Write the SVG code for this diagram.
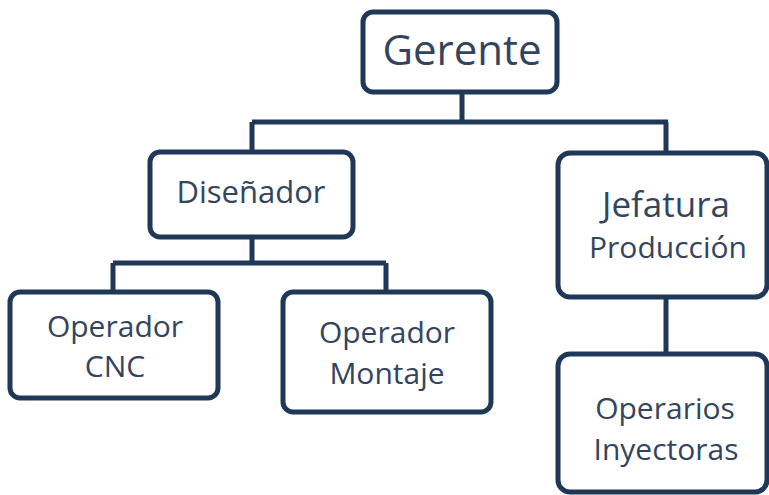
<svg xmlns="http://www.w3.org/2000/svg" width="769" height="495" viewBox="0 0 769 495">
<style>
.box{fill:#ffffff;stroke:#1f3858;stroke-width:5}
.line{fill:none;stroke:#1f3858;stroke-width:5}
text{font-family:"Open Sans","Noto Sans",sans-serif;fill:#33455e;text-anchor:middle;font-size:30px}
text.big{font-size:42px}
text.mid{font-size:35px}
text.dis{font-size:31px}
</style>
<rect width="769" height="495" fill="#ffffff"/>
<g id="connectors">
<path class="line" d="M462 92 V122 M252 122 H668 M252 122 V151 M666 122 V152"/>
<path class="line" d="M252 237 V263 M113 263 H386 M113 263 V292 M386 263 V292"/>
<path class="line" d="M666 297 V353"/>
</g>
<g id="gerente">
<rect class="box" x="363" y="12" width="194" height="80" rx="10"/>
<text class="big" x="462" y="65">Gerente</text>
</g>
<g id="disenador">
<rect class="box" x="150" y="152" width="203" height="85" rx="10"/>
<text class="dis" x="251" y="203">Diseñador</text>
</g>
<g id="operador-cnc">
<rect class="box" x="10" y="292" width="208" height="106" rx="10"/>
<text x="115" y="337">Operador</text>
<text x="115" y="377">CNC</text>
</g>
<g id="operador-montaje">
<rect class="box" x="283" y="292" width="208" height="120" rx="10"/>
<text x="387" y="343">Operador</text>
<text x="387" y="384">Montaje</text>
</g>
<g id="jefatura">
<rect class="box" x="558" y="153" width="209" height="144" rx="12"/>
<text class="mid" x="666" y="217">Jefatura</text>
<text x="668" y="258">Producción</text>
</g>
<g id="operarios">
<rect class="box" x="558" y="354" width="209" height="138" rx="12"/>
<text x="665" y="419">Operarios</text>
<text x="666" y="460">Inyectoras</text>
</g>
</svg>
